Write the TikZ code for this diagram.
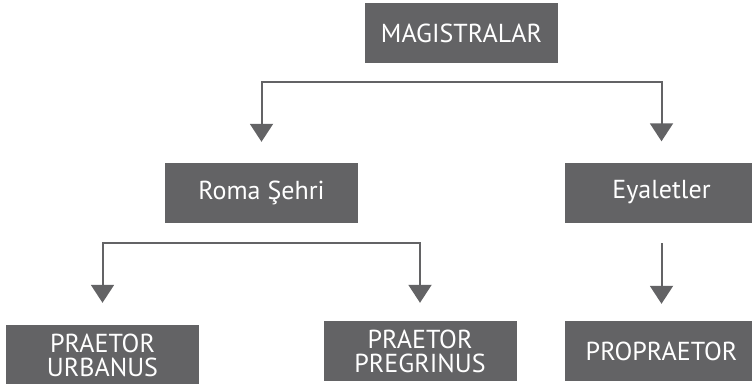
\documentclass[tikz,border=0pt]{standalone}
\usepackage{fontspec}
\setmainfont{PT Sans}
\usetikzlibrary{arrows.meta}
\definecolor{boxgray}{RGB}{99,99,101}
\tikzset{
	kutu/.style={fill=boxgray, text=white, minimum width=193pt, minimum height=60pt,
		inner sep=0pt, align=center, font=\fontsize{26}{24}\selectfont},
	link/.style={draw=boxgray, line width=2pt, -{Triangle[width=23pt,length=18pt]}}
}
\begin{document}
\begin{tikzpicture}[x=1pt,y=-1pt]
			\useasboundingbox (0,0) rectangle (752,383);
			\clip (0,0) rectangle (752,383);
			\node[kutu] (mag) at (461.5,33) {MAGISTRALAR};
			\node[kutu] (roma) at (261.5,193) {Roma Şehri};
			\node[kutu] (eyalet) at (661.5,192.5) {Eyaletler};
			\node[kutu] (urbanus) at (102.5,355) {PRAETOR\\URBANUS};
			\node[kutu] (pregrinus) at (420,351) {PRAETOR\\PREGRINUS};
			\node[kutu] (propraetor) at (661.5,351) {PROPRAETOR};
			\coordinate (split1) at (461.5,82);
			\coordinate (split2) at (261.5,243);
			\foreach \a/\b/\s in {split1/roma/21, split1/eyalet/21,
				split2/urbanus/22, split2/pregrinus/18}
			\draw[link, shorten >=\s pt] (\a) -| (\b.north);
			\draw[link, shorten <=20.5pt, shorten >=17pt] (eyalet) -- (propraetor);
		\end{tikzpicture}
\end{document}
